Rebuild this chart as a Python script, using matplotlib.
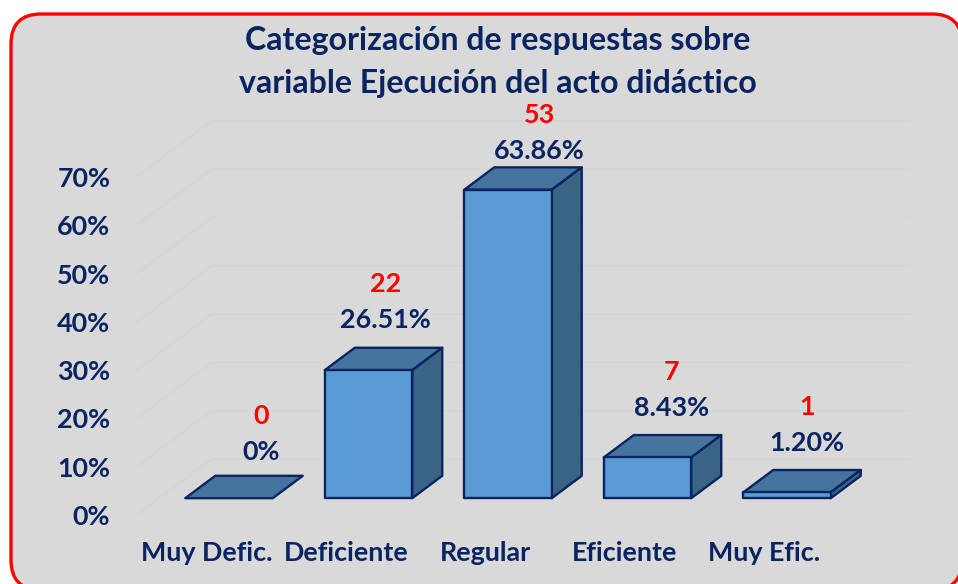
"""Categorizacion de respuestas - Excel-style 3D columns drawn as oblique polygons."""
import matplotlib
matplotlib.use("Agg")
import matplotlib.pyplot as plt
from matplotlib.patches import FancyBboxPatch
from matplotlib.ticker import PercentFormatter
from matplotlib.transforms import IdentityTransform

categories = ["Muy Defic.", "Deficiente", "Regular", "Eficiente", "Muy Efic."]
percents = [0, 26.51, 63.86, 8.43, 1.20]
percent_labels = ["0%", "26.51%", "63.86%", "8.43%", "1.20%"]
counts = [0, 22, 53, 7, 1]
y_ticks = [0, 10, 20, 30, 40, 50, 60, 70]

TITLE = "Categorización de respuestas sobre\nvariable Ejecución del acto didáctico"
NAVY = "#0A2461"
FRONT = "#5B9BD5"
TOP = "#45759F"
SIDE = "#3A6486"
PANEL = "#D9D9D9"
GRID = "#D5D5D5"

W, H = 958, 584
PX_X = 139.5   # px per category
PX_Y = 4.83    # px per percent point
LEFT, BASE = 136.75, 515

# oblique depth of the floor, in data units
DEPTH_X = 75 / PX_X
DEPTH_Y = 56 / PX_Y
BAR_W = 0.627
BAR_D0, BAR_D1 = 0.30, 0.70

# manual label shifts from the back top edge of each bar (px: right, up)
LABEL_SHIFT = [(2, 24), (-13, 28), (1, 16), (-6, 27), (-10, 27)]
COUNT_GAP = 36


def proj(x, y, d):
    return x + d * DEPTH_X, y + d * DEPTH_Y


def face(ax, corners, color, z):
    pts = [proj(*c) for c in corners]
    ax.fill([p[0] for p in pts], [p[1] for p in pts], facecolor=color, edgecolor=NAVY,
            linewidth=1.7, joinstyle="round", clip_on=False, zorder=z)


plt.rcParams["font.family"] = ["Lato", "DejaVu Sans"]
plt.rcParams["font.weight"] = "bold"

fig = plt.figure(figsize=(W / 100, H / 100), dpi=100, facecolor="white")
frame = FancyBboxPatch((11 + 30, 584 - 590 + 30), 962 - 11 - 60, 590 - 14 - 60,
                       boxstyle="round,pad=30,rounding_size=30", transform=IdentityTransform(),
                       facecolor=PANEL, edgecolor="#FF0000", linewidth=2.4, zorder=-1)
fig.add_artist(frame)

ax = fig.add_axes([LEFT / W, (H - BASE) / H, 5 * PX_X / W, 70 * PX_Y / H])
ax.patch.set_visible(False)
ax.set_xlim(-0.5, 4.5)
ax.set_ylim(0, 70)
for s in ax.spines.values():
    s.set_visible(False)

ax.set_xticks(range(len(categories)), categories)
ax.set_yticks(y_ticks)
ax.yaxis.set_major_formatter(PercentFormatter(decimals=0))
ax.tick_params(axis="both", length=0, labelsize=19.4, labelcolor=NAVY)
ax.tick_params(axis="x", pad=18.5)
ax.tick_params(axis="y", pad=19)

for t in y_ticks:
    xs, ys = zip(proj(-0.5, t, 0), proj(-0.5, t, 1), proj(4.5, t, 1))
    ax.plot(xs, ys, color=GRID, lw=1, clip_on=False, zorder=1)

for i, v in enumerate(percents):
    x0, x1 = i - BAR_W / 2, i + BAR_W / 2
    face(ax, [(x0, v, BAR_D0), (x1, v, BAR_D0), (x1, v, BAR_D1), (x0, v, BAR_D1)], TOP, 3)
    if v > 0:
        face(ax, [(x1, 0, BAR_D0), (x1, 0, BAR_D1), (x1, v, BAR_D1), (x1, v, BAR_D0)], SIDE, 3)
        face(ax, [(x0, 0, BAR_D0), (x1, 0, BAR_D0), (x1, v, BAR_D0), (x0, v, BAR_D0)], FRONT, 3)

    ax_xy = proj(i, v, BAR_D1)
    sx, sy = LABEL_SHIFT[i]
    ax.annotate(percent_labels[i], ax_xy, xytext=(sx * 0.72, sy * 0.72), textcoords="offset points",
                ha="center", va="center", color=NAVY, fontsize=19.4, annotation_clip=False, zorder=5)
    ax.annotate(str(counts[i]), ax_xy, xytext=(sx * 0.72, (sy + COUNT_GAP) * 0.72),
                textcoords="offset points", ha="center", va="center", color="#FF0000",
                fontsize=19.4, annotation_clip=False, zorder=5)

fig.text(498 / W, (H - 62) / H, TITLE, ha="center", va="center", color=NAVY,
         fontsize=23.1, linespacing=1.57)

fig.savefig("out.png", dpi=100)
